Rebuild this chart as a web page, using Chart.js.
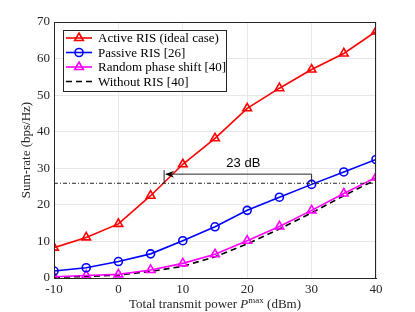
<!DOCTYPE html>
<html>
<head>
<meta charset="utf-8">
<script src="https://cdn.jsdelivr.net/npm/chart.js@4/dist/chart.umd.min.js"></script>
<style>
  html, body { margin: 0; padding: 0; background: #fff; }
  canvas { display: block; }
</style>
</head>
<body>
<canvas id="chart" width="415" height="312"></canvas>
<script>
// data
const powers = [-10, -5, 0, 5, 10, 15, 20, 25, 30, 35, 40];
const activeRIS = [8.3, 11.1, 14.8, 22.5, 31.1, 38.2, 46.4, 51.9, 57.0, 61.4, 67.4];
const passiveRIS = [1.9, 2.8, 4.5, 6.6, 10.2, 14.0, 18.5, 22.1, 25.6, 29.0, 32.4];
const randomPhase = [0.35, 0.7, 1.0, 2.2, 4.0, 6.5, 10.2, 14.1, 18.5, 23.1, 27.5];
const withoutRIS = [0.2, 0.4, 0.8, 1.8, 3.2, 5.8, 9.3, 13.4, 17.8, 22.5, 26.9];

const seriesNames = ['Active RIS (ideal case)', 'Passive RIS [26]', 'Random phase shift [40]', 'Without RIS [40]'];
const xTicks = [-10, 0, 10, 20, 30, 40];
const yTicks = [0, 10, 20, 30, 40, 50, 60, 70];

// the "23 dB" gap annotation
const refLevel = 25.9;      // dash-dot level
const arrowLevel = 28.4;
const arrowStart = 30;
const arrowEnd = 7.1;
const arrowTopLeft = 29.5;
const gapLabel = '23 dB';
const gapLabelPos = [19.4, 31.4];

const SERIF = '"Liberation Serif", "DejaVu Serif", serif';
const INK = '#262626';

function pts(ys) {
    return powers.map((x, i) => ({ x: x, y: ys[i] }));
}

const datasets = [
    {
        label: seriesNames[0], data: pts(activeRIS),
        borderColor: '#ff0000', backgroundColor: 'rgba(0,0,0,0)',
        borderWidth: 1.6, pointStyle: 'triangle', pointRadius: 5, pointBorderWidth: 1.6
    },
    {
        label: seriesNames[1], data: pts(passiveRIS),
        borderColor: '#0000ff', backgroundColor: 'rgba(0,0,0,0)',
        borderWidth: 1.6, pointStyle: 'circle', pointRadius: 4, pointBorderWidth: 1.6
    },
    {
        label: seriesNames[2], data: pts(randomPhase),
        borderColor: '#ff00ff', backgroundColor: 'rgba(0,0,0,0)',
        borderWidth: 1.6, pointStyle: 'triangle', pointRadius: 5, pointBorderWidth: 1.6
    },
    {
        label: seriesNames[3], data: pts(withoutRIS),
        borderColor: '#000000', backgroundColor: 'rgba(0,0,0,0)',
        borderWidth: 1.6, borderDash: [6, 4], pointRadius: 0
    }
];

const extras = {
    id: 'extras',
    afterDatasetsDraw(chart) {
        const ctx = chart.ctx;
        const xs = chart.scales.x, ys = chart.scales.y;
        const a = chart.chartArea;

        ctx.save();
        // box round the axes
        ctx.strokeStyle = INK;
        ctx.lineWidth = 1;
        ctx.strokeRect(a.left + 0.5, a.top + 0.5, a.right - a.left - 1, a.bottom - a.top);

        // dash-dot reference level
        ctx.setLineDash([4, 2, 1, 2]);
        ctx.beginPath();
        ctx.moveTo(xs.getPixelForValue(-10), ys.getPixelForValue(refLevel));
        ctx.lineTo(xs.getPixelForValue(40), ys.getPixelForValue(refLevel));
        ctx.stroke();
        ctx.setLineDash([]);

        // arrow with end bars
        const xR = xs.getPixelForValue(arrowStart), xL = xs.getPixelForValue(arrowEnd);
        const yA = ys.getPixelForValue(arrowLevel);
        ctx.beginPath();
        ctx.moveTo(xR, ys.getPixelForValue(refLevel));
        ctx.lineTo(xR, yA);
        ctx.lineTo(xL + 2, yA);
        ctx.moveTo(xL, ys.getPixelForValue(arrowTopLeft));
        ctx.lineTo(xL, ys.getPixelForValue(refLevel));
        ctx.stroke();
        ctx.fillStyle = '#000';
        ctx.beginPath();
        ctx.moveTo(xL + 1, yA);
        ctx.lineTo(xL + 10, yA - 3.5);
        ctx.lineTo(xL + 7, yA);
        ctx.lineTo(xL + 10, yA + 3.5);
        ctx.closePath();
        ctx.fill();

        ctx.fillStyle = '#000';
        ctx.font = '13px "Liberation Sans", Arial, sans-serif';
        ctx.textAlign = 'center';
        ctx.textBaseline = 'middle';
        ctx.fillText(gapLabel, xs.getPixelForValue(gapLabelPos[0]), ys.getPixelForValue(gapLabelPos[1]));

        // legend box
        const lx = 63, ly = 30, lw = 163, lh = 61;
        ctx.fillStyle = '#fff';
        ctx.fillRect(lx, ly, lw, lh);
        ctx.strokeStyle = INK;
        ctx.strokeRect(lx + 0.5, ly + 0.5, lw, lh);
        ctx.font = '13px ' + SERIF;
        ctx.textAlign = 'left';
        chart.data.datasets.forEach((ds, i) => {
            const y = ly + 8 + i * 14.5;
            ctx.strokeStyle = ds.borderColor;
            ctx.lineWidth = ds.borderWidth;
            ctx.setLineDash(ds.borderDash || []);
            ctx.beginPath();
            ctx.moveTo(lx + 3, y);
            ctx.lineTo(lx + 29, y);
            ctx.stroke();
            ctx.setLineDash([]);
            if (ds.pointRadius > 0) {
                ctx.fillStyle = 'rgba(0,0,0,0)';
                Chart.helpers.drawPoint(ctx, {
                    pointStyle: ds.pointStyle, radius: ds.pointRadius, rotation: 0,
                    borderWidth: ds.pointBorderWidth
                }, lx + 16, y);
            }
            ctx.fillStyle = '#000';
            ctx.fillText(ds.label, lx + 35, y + 1);
        });

        // axis titles
        ctx.fillStyle = INK;
        ctx.font = '13px ' + SERIF;
        ctx.textBaseline = 'alphabetic';
        const parts = [
            ['Total transmit power ', '13px ' + SERIF, 0],
            ['P', 'italic 13px ' + SERIF, 0],
            ['max', '9px ' + SERIF, -5],
            [' (dBm)', '13px ' + SERIF, 0]
        ];
        let total = 0;
        parts.forEach(p => { ctx.font = p[1]; total += ctx.measureText(p[0]).width; });
        let cx = (a.left + a.right) / 2 - total / 2;
        parts.forEach(p => {
            ctx.font = p[1];
            ctx.fillText(p[0], cx, 308 + p[2]);
            cx += ctx.measureText(p[0]).width;
        });

        ctx.font = '13px ' + SERIF;
        ctx.translate(27, (a.top + a.bottom) / 2);
        ctx.rotate(-Math.PI / 2);
        ctx.textAlign = 'center';
        ctx.textBaseline = 'middle';
        ctx.fillText('Sum-rate (bps/Hz)', 0, 0);
        ctx.restore();
    }
};

new Chart(document.getElementById('chart'), {
    type: 'line',
    data: { datasets: datasets },
    options: {
        responsive: false,
        animation: false,
        layout: { padding: { top: 22, right: 39, left: 0, bottom: 0 } },
        plugins: { legend: { display: false }, tooltip: { enabled: false } },
        scales: {
            x: {
                type: 'linear', min: -10, max: 40,
                afterBuildTicks: s => { s.ticks = xTicks.map(v => ({ value: v })); },
                afterFit: s => { s.height = 34; },
                ticks: { font: { family: SERIF, size: 13 }, color: INK, padding: 4, maxRotation: 0 },
                grid: { color: '#e8e8e8', drawTicks: false },
                border: { color: INK }
            },
            y: {
                min: 0, max: 70,
                afterBuildTicks: s => { s.ticks = yTicks.map(v => ({ value: v })); },
                afterFit: s => { s.width = 54; },
                ticks: { font: { family: SERIF, size: 13 }, color: INK, padding: 4 },
                grid: { color: '#e8e8e8', drawTicks: false },
                border: { color: INK }
            }
        }
    },
    plugins: [extras]
});
</script>
</body>
</html>
